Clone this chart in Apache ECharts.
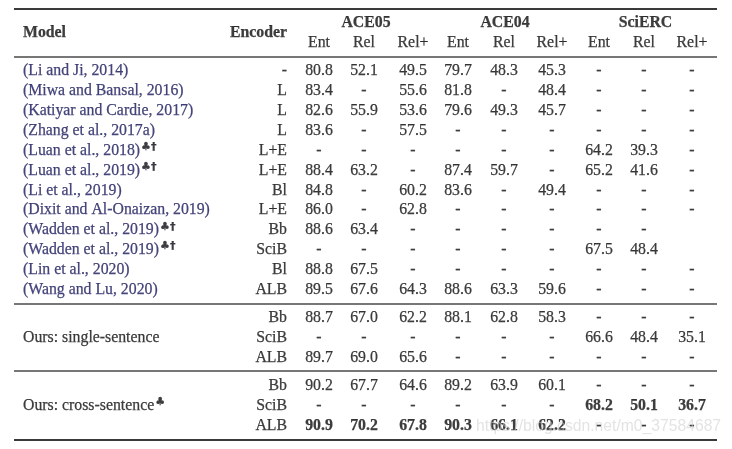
<!DOCTYPE html>
<html>
<head>
<meta charset="utf-8">
<script src="https://cdn.jsdelivr.net/npm/echarts@6/dist/echarts.min.js"></script>
<style>
html,body{margin:0;padding:0;background:#fff;}
#chart{width:732px;height:449px;}
</style>
</head>
<body>
<div id="chart"></div>
<script>
// ---------------- DATA ----------------
const groups = ['ACE05', 'ACE04', 'SciERC'];
const metrics = ['Ent', 'Rel', 'Rel+'];

const priorModels = [
  '(Li and Ji, 2014)',
  '(Miwa and Bansal, 2016)',
  '(Katiyar and Cardie, 2017)',
  '(Zhang et al., 2017a)',
  '(Luan et al., 2018)',
  '(Luan et al., 2019)',
  '(Li et al., 2019)',
  '(Dixit and Al-Onaizan, 2019)',
  '(Wadden et al., 2019)',
  '(Wadden et al., 2019)',
  '(Lin et al., 2020)',
  '(Wang and Lu, 2020)'
];
const priorMarks = ['', '', '', '', '♣†', '♣†', '', '', '♣†', '♣†', '', ''];
const priorEncoders = ['-', 'L', 'L', 'L', 'L+E', 'L+E', 'Bl', 'L+E', 'Bb', 'SciB', 'Bl', 'ALB'];
// null = "-", '' = blank cell
const priorScores = [
  [80.8, 52.1, 49.5, 79.7, 48.3, 45.3, null, null, null],
  [83.4, null, 55.6, 81.8, null, 48.4, null, null, null],
  [82.6, 55.9, 53.6, 79.6, 49.3, 45.7, null, null, null],
  [83.6, null, 57.5, null, null, null, null, null, null],
  [null, null, null, null, null, null, 64.2, 39.3, null],
  [88.4, 63.2, null, 87.4, 59.7, null, 65.2, 41.6, null],
  [84.8, null, 60.2, 83.6, null, 49.4, null, null, null],
  [86.0, null, 62.8, null, null, null, null, null, null],
  [88.6, 63.4, null, null, null, null, null, null, ''],
  [null, null, null, null, null, null, 67.5, 48.4, ''],
  [88.8, 67.5, null, null, null, null, null, null, null],
  [89.5, 67.6, 64.3, 88.6, 63.3, 59.6, null, null, null]
];

const oursSections = ['Ours: single-sentence', 'Ours: cross-sentence'];
const oursSectionMarks = ['', '♣'];
const oursEncoders = ['Bb', 'SciB', 'ALB'];
const oursSingleScores = [
  [88.7, 67.0, 62.2, 88.1, 62.8, 58.3, null, null, null],
  [null, null, null, null, null, null, 66.6, 48.4, 35.1],
  [89.7, 69.0, 65.6, null, null, null, null, null, null]
];
const oursCrossScores = [
  [90.2, 67.7, 64.6, 89.2, 63.9, 60.1, null, null, null],
  [null, null, null, null, null, null, 68.2, 50.1, 36.7],
  [90.9, 70.2, 67.8, 90.3, 66.1, 62.2, null, null, null]
];
const oursCrossBold = [
  [0, 0, 0, 0, 0, 0, 0, 0, 0],
  [0, 0, 0, 0, 0, 0, 1, 1, 1],
  [1, 1, 1, 1, 1, 1, 0, 0, 0]
];
const watermark = 'https://blog.csdn.net/m0_37584687';

// ---------------- LAYOUT ----------------
const FONT = '"Liberation Serif", "Times New Roman", serif';
const FS = 15.8;
const NAVY = '#17175a';
const INK = '#0d0d0d';
const COLX = [319, 364, 413, 458, 504, 552, 599, 644, 692];
const MODEL_X = 23, ENC_X = 287;
const RULE_X0 = 14, RULE_X1 = 717;
const PRIOR_Y0 = 71, PRIOR_PITCH = 19.9;
const SINGLE_Y0 = 318, CROSS_Y0 = 386, OURS_PITCH = 20;
const GROUP_Y = 23, SUB_Y = 43, HEAD_Y = 33;
const RULES = [
  { y: 9, w: 1.8, c: '#3a3a3a' },
  { y: 57, w: 1.3, c: '#4a4a4a' },
  { y: 304, w: 1.3, c: '#4a4a4a' },
  { y: 371, w: 1.3, c: '#4a4a4a' },
  { y: 440, w: 1.8, c: '#3a3a3a' }
];

// ---------------- BUILD ----------------
const cells = [];
function cell(x, y, text, align, opts) {
  opts = opts || {};
  cells.push({
    value: [x, y],
    label: {
      show: true,
      position: 'inside',
      align: align,
      verticalAlign: 'middle',
      formatter: text,
      fontFamily: FONT,
      fontSize: opts.fontSize || FS,
      fontWeight: opts.bold ? 'bold' : 'normal',
      color: opts.color || INK,
      textBorderColor: opts.color || INK,
      textBorderWidth: 0.25,
      rich: opts.rich
    }
  });
}
function fmt(v) {
  if (v === null) return '-';
  if (v === '') return '';
  return v.toFixed(1);
}
const supRich = (color) => ({
  m: { fontFamily: FONT, fontSize: FS, color: color, lineHeight: 18, textBorderColor: color, textBorderWidth: 0.25 },
  s: { fontFamily: '"DejaVu Sans", sans-serif', fontSize: 11, fontWeight: 'bold', color: INK, verticalAlign: 'top', lineHeight: 11, padding: [0, 0, 0, 1] }
});

// headers
cell(MODEL_X, HEAD_Y, 'Model', 'left', { bold: true });
cell(ENC_X, HEAD_Y, 'Encoder', 'right', { bold: true });
groups.forEach((g, gi) => {
  const cx = (COLX[gi * 3] + COLX[gi * 3 + 2]) / 2;
  cell(cx, GROUP_Y, g, 'center', { bold: true });
  metrics.forEach((m, mi) => cell(COLX[gi * 3 + mi], SUB_Y, m, 'center'));
});

// prior rows
priorModels.forEach((name, i) => {
  const y = PRIOR_Y0 + i * PRIOR_PITCH;
  if (priorMarks[i]) {
    cell(MODEL_X, y, '{m|' + name + '}{s|' + priorMarks[i] + '}', 'left', { rich: supRich(NAVY), color: NAVY });
  } else {
    cell(MODEL_X, y, name, 'left', { color: NAVY });
  }
  cell(ENC_X, y, priorEncoders[i], 'right');
  priorScores[i].forEach((v, c) => cell(COLX[c], y, fmt(v), 'center'));
});

// ours
[[oursSingleScores, SINGLE_Y0, null], [oursCrossScores, CROSS_Y0, oursCrossBold]].forEach((sec, si) => {
  const [scores, y0, bold] = sec;
  const midY = y0 + OURS_PITCH;
  if (oursSectionMarks[si]) {
    cell(MODEL_X, midY, '{m|' + oursSections[si] + '}{s|' + oursSectionMarks[si] + '}', 'left', { rich: supRich(INK) });
  } else {
    cell(MODEL_X, midY, oursSections[si], 'left');
  }
  oursEncoders.forEach((enc, j) => {
    const y = y0 + j * OURS_PITCH;
    cell(ENC_X, y, enc, 'right');
    scores[j].forEach((v, c) => cell(COLX[c], y, fmt(v), 'center', { bold: bold && bold[j][c] }));
  });
});

const series = RULES.map(r => ({
  type: 'line',
  data: [[RULE_X0, r.y], [RULE_X1, r.y]],
  symbol: 'none',
  silent: true,
  animation: false,
  lineStyle: { color: r.c, width: r.w }
}));
series.push({
  type: 'scatter',
  data: cells,
  symbolSize: 1,
  itemStyle: { color: 'rgba(0,0,0,0)' },
  silent: true,
  animation: false
});
series.push({
  type: 'scatter',
  data: [{
    value: [476, 427],
    label: {
      show: true, position: 'inside', align: 'left', verticalAlign: 'middle',
      formatter: watermark,
      fontFamily: '"Liberation Sans", Arial, sans-serif',
      fontSize: 15.7,
      color: 'rgba(205,205,205,0.7)'
    }
  }],
  symbolSize: 1,
  itemStyle: { color: 'rgba(0,0,0,0)' },
  silent: true,
  animation: false,
  z: 5
});

const chart = echarts.init(document.getElementById('chart'), null, { renderer: 'canvas' });
chart.setOption({
  backgroundColor: '#ffffff',
  animation: false,
  grid: { left: 0, right: 0, top: 0, bottom: 0 },
  xAxis: { type: 'value', min: 0, max: 732, show: false },
  yAxis: { type: 'value', min: 0, max: 449, inverse: true, show: false },
  series: series
});
</script>
</body>
</html>
